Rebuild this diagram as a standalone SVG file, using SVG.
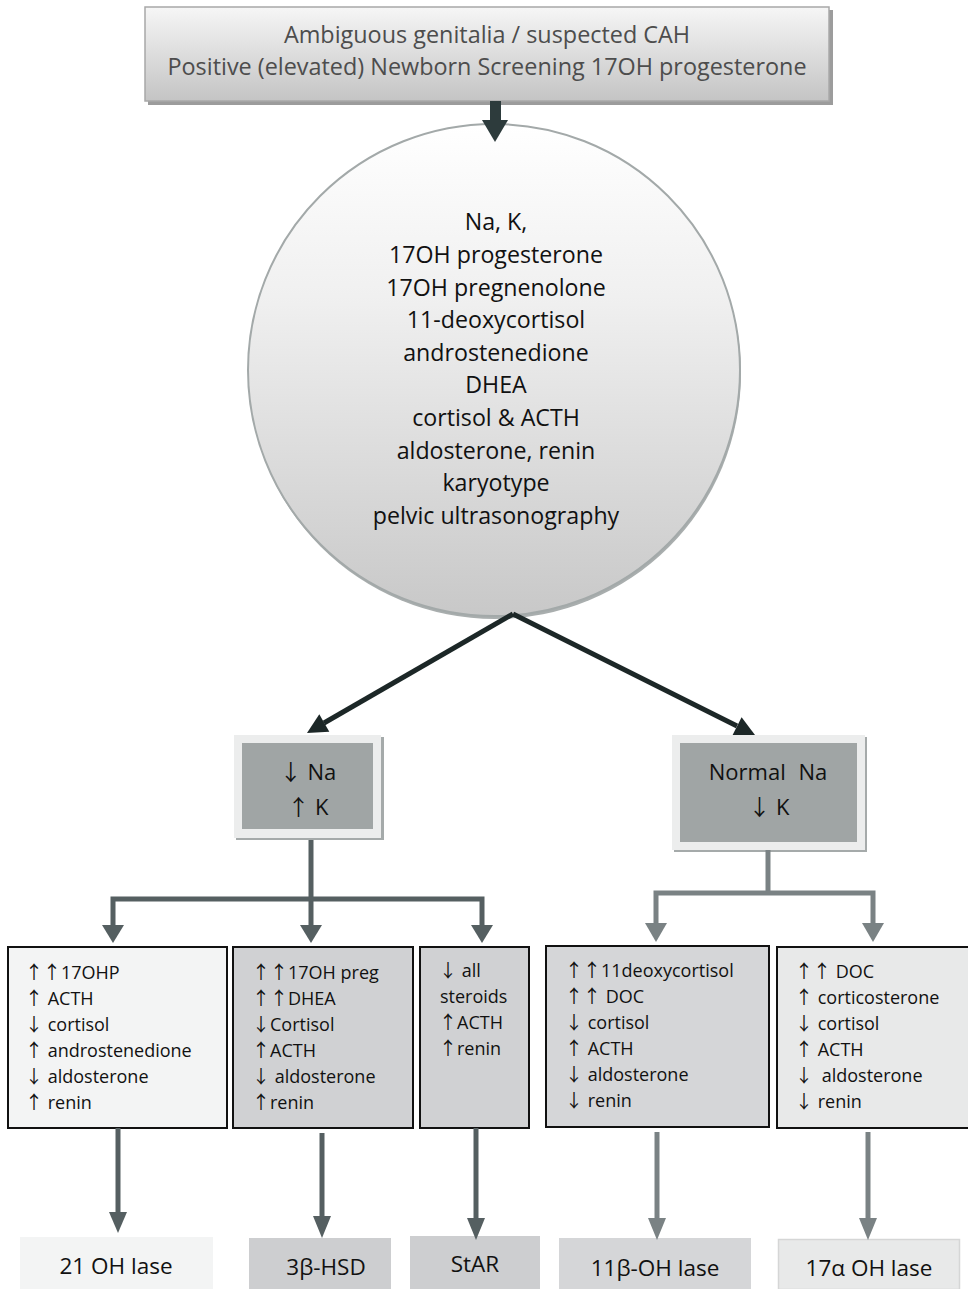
<svg xmlns="http://www.w3.org/2000/svg" width="968" height="1289" viewBox="0 0 968 1289">
<defs>
<linearGradient id="gTop" x1="0" y1="0" x2="0" y2="1">
<stop offset="0" stop-color="#f6f6f6"/><stop offset="1" stop-color="#c4c4c4"/>
</linearGradient>
<linearGradient id="gCirc" x1="0" y1="0" x2="0" y2="1">
<stop offset="0" stop-color="#ffffff"/><stop offset="0.35" stop-color="#f0f0f0"/><stop offset="1" stop-color="#c8c8c8"/>
</linearGradient>
</defs>
<style>
text{font-family:"Open Sans","Liberation Sans",sans-serif;}
.a{font-family:"Noto Sans CJK SC","DejaVu Sans",sans-serif;}
.t22{font-size:23.4px;fill:#4d4d4d;text-anchor:middle;}
.tc{font-size:23.2px;fill:#111;text-anchor:middle;}
.tn{font-size:22px;fill:#111;text-anchor:middle;}
.tb{font-size:18px;fill:#111;}
.tf{font-size:22.5px;fill:#111;text-anchor:middle;}
.box{stroke:#111;stroke-width:2;}
.cl{fill:none;stroke:#555f61;stroke-width:5;}
.cr{fill:none;stroke:#7a8284;stroke-width:5;}
.hl{fill:#555f61;}
.hr{fill:#7a8284;}
.dk{fill:#1c2727;}
</style>

<g id="top">
<rect x="148" y="10" width="685" height="95" fill="#9c9c9c"/>
<rect x="145" y="7" width="684" height="94" fill="url(#gTop)" stroke="#a8a8a8" stroke-width="1.5"/>
<text class="t22" x="487" y="43">Ambiguous genitalia / suspected CAH</text>
<text class="t22" x="487" y="75">Positive (elevated) Newborn Screening 17OH progesterone</text>
</g>

<g id="tests">
<circle cx="495" cy="373" r="246" fill="#a9aeae"/>
<circle cx="494" cy="370" r="246" fill="url(#gCirc)" stroke="#a3a9a9" stroke-width="2"/>
<text class="tc" x="496" y="230">Na, K,</text>
<text class="tc" x="496" y="263">17OH progesterone</text>
<text class="tc" x="496" y="296">17OH pregnenolone</text>
<text class="tc" x="496" y="328">11-deoxycortisol</text>
<text class="tc" x="496" y="361">androstenedione</text>
<text class="tc" x="496" y="393">DHEA</text>
<text class="tc" x="496" y="426">cortisol &amp; ACTH</text>
<text class="tc" x="496" y="459">aldosterone, renin</text>
<text class="tc" x="496" y="491">karyotype</text>
<text class="tc" x="496" y="524">pelvic ultrasonography</text>
</g>

<g id="lowNa">
<rect x="236" y="737" width="148" height="103" fill="#a5aaaa"/>
<rect x="234" y="735" width="147" height="103" fill="#eceded"/>
<rect x="242" y="743" width="131" height="86" fill="#a0a5a5"/>
<text class="tn" x="308" y="780"><tspan class="a">↓</tspan> Na</text>
<text class="tn" x="308" y="815"><tspan class="a">↑</tspan> K</text>
</g>

<g id="normalNa">
<rect x="674" y="737" width="193" height="115" fill="#a5aaaa"/>
<rect x="672" y="735" width="193" height="115" fill="#eceded"/>
<rect x="680" y="743" width="177" height="99" fill="#a0a5a5"/>
<text class="tn" x="768" y="780">Normal <tspan dx="7">Na</tspan></text>
<text class="tn" x="769" y="815"><tspan class="a">↓</tspan> K</text>
</g>

<g id="b21">
<rect class="box" x="8" y="947" width="219" height="181" fill="#f3f4f4"/>
<text class="tb" x="25" y="979"><tspan class="a">↑↑</tspan>17OHP</text>
<text class="tb" x="25" y="1005"><tspan class="a">↑</tspan> ACTH</text>
<text class="tb" x="25" y="1031"><tspan class="a">↓</tspan> cortisol</text>
<text class="tb" x="25" y="1057"><tspan class="a">↑</tspan> androstenedione</text>
<text class="tb" x="25" y="1083"><tspan class="a">↓</tspan> aldosterone</text>
<text class="tb" x="25" y="1109"><tspan class="a">↑</tspan> renin</text>
</g>

<g id="b3b">
<rect class="box" x="233" y="947" width="180" height="181" fill="#d0d1d3"/>
<text class="tb" x="252" y="979"><tspan class="a">↑↑</tspan>17OH preg</text>
<text class="tb" x="252" y="1005"><tspan class="a">↑↑</tspan>DHEA</text>
<text class="tb" x="252" y="1031"><tspan class="a">↓</tspan>Cortisol</text>
<text class="tb" x="252" y="1057"><tspan class="a">↑</tspan>ACTH</text>
<text class="tb" x="252" y="1083"><tspan class="a">↓</tspan> aldosterone</text>
<text class="tb" x="252" y="1109"><tspan class="a">↑</tspan>renin</text>
</g>

<g id="bstar">
<rect class="box" x="420" y="947" width="109" height="181" fill="#d0d1d3"/>
<text class="tb" x="439" y="977"><tspan class="a">↓</tspan> all</text>
<text class="tb" x="440" y="1003">steroids</text>
<text class="tb" x="439" y="1029"><tspan class="a">↑</tspan>ACTH</text>
<text class="tb" x="439" y="1055"><tspan class="a">↑</tspan>renin</text>
</g>

<g id="b11">
<rect class="box" x="546" y="946" width="223" height="181" fill="#d5d6d8"/>
<text class="tb" x="565" y="977"><tspan class="a">↑↑</tspan>11deoxycortisol</text>
<text class="tb" x="565" y="1003"><tspan class="a">↑↑</tspan> DOC</text>
<text class="tb" x="565" y="1029"><tspan class="a">↓</tspan> cortisol</text>
<text class="tb" x="565" y="1055"><tspan class="a">↑</tspan> ACTH</text>
<text class="tb" x="565" y="1081"><tspan class="a">↓</tspan> aldosterone</text>
<text class="tb" x="565" y="1107"><tspan class="a">↓</tspan> renin</text>
</g>

<g id="b17">
<rect class="box" x="777" y="947" width="192" height="181" fill="#e8e9e9"/>
<text class="tb" x="795" y="978"><tspan class="a">↑↑</tspan> DOC</text>
<text class="tb" x="795" y="1004"><tspan class="a">↑</tspan> corticosterone</text>
<text class="tb" x="795" y="1030"><tspan class="a">↓</tspan> cortisol</text>
<text class="tb" x="795" y="1056"><tspan class="a">↑</tspan> ACTH</text>
<text class="tb" x="795" y="1082"><tspan class="a">↓</tspan> <tspan dx="4">aldosterone</tspan></text>
<text class="tb" x="795" y="1108"><tspan class="a">↓</tspan> renin</text>
</g>

<g id="r21">
<rect x="20" y="1237" width="193" height="52" fill="#f3f4f4"/>
<text class="tf" x="116" y="1274">21 OH lase</text>
</g>
<g id="r3b">
<rect x="249" y="1238" width="142" height="51" fill="#cdced0"/>
<text class="tf" x="326" y="1275">3β-HSD</text>
</g>
<g id="rstar">
<rect x="410" y="1236" width="130" height="53" fill="#cdced0"/>
<text class="tf" x="475" y="1272">StAR</text>
</g>
<g id="r11">
<rect x="559" y="1238" width="192" height="51" fill="#d5d6d8"/>
<text class="tf" x="655" y="1276">11β-OH lase</text>
</g>
<g id="r17">
<rect x="778.5" y="1239.5" width="181" height="50" fill="#e8e9e9" stroke="#d5d6d6" stroke-width="1.5"/>
<text class="tf" x="869" y="1276">17α OH lase</text>
</g>

<g id="connectors">
<rect x="490" y="101" width="11" height="21" fill="#2d3b3c"/>
<path d="M482,120 L508,120 L495,142 z" fill="#2d3b3c"/>
<path d="M513,614 L324,723" stroke="#1c2727" stroke-width="5" fill="none"/>
<path class="dk" d="M307,733 L329.3,731.7 L319.3,714.3 z"/>
<path d="M513,614 L737,726" stroke="#1c2727" stroke-width="5" fill="none"/>
<path class="dk" d="M755,735 L732.6,735 L741.6,717.2 z"/>
<path class="cl" d="M311,840 L311,927"/>
<path class="cl" d="M113,927 L113,899 L482,899 L482,927"/>
<path class="hl" d="M102,925 L124,925 L113,943 z"/>
<path class="hl" d="M300,925 L322,925 L311,943 z"/>
<path class="hl" d="M471,925 L493,925 L482,943 z"/>
<path class="cr" d="M768,850 L768,893"/>
<path class="cr" d="M656,925 L656,893 L873,893 L873,925"/>
<path class="hr" d="M645,923 L667,923 L656,942 z"/>
<path class="hr" d="M862,923 L884,923 L873,942 z"/>
<path class="cl" d="M118,1128 L118,1214"/>
<path class="hl" d="M109,1212 L127,1212 L118,1233 z"/>
<path class="cl" d="M322,1133 L322,1218"/>
<path class="hl" d="M313,1216 L331,1216 L322,1238 z"/>
<path class="cl" d="M476,1128 L476,1220"/>
<path class="hl" d="M467,1218 L485,1218 L476,1240 z"/>
<path class="cr" d="M657,1132 L657,1220"/>
<path class="hr" d="M648,1218 L666,1218 L657,1240 z"/>
<path class="cr" d="M868,1132 L868,1220"/>
<path class="hr" d="M859,1218 L877,1218 L868,1240 z"/>
</g>
</svg>
